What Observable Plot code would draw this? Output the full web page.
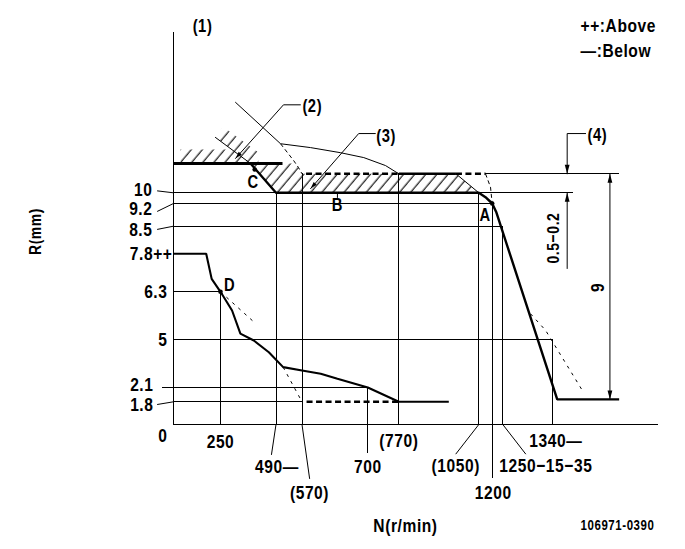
<!DOCTYPE html>
<html>
<head>
<meta charset="utf-8">
<script src="https://cdn.jsdelivr.net/npm/d3@7"></script>
<script src="https://cdn.jsdelivr.net/npm/@observablehq/plot@0.6"></script>
<style>
  html, body { margin: 0; padding: 0; background: #fff; }
  #chart svg text { letter-spacing: 0.7px; }
</style>
</head>
<body>
<div id="chart"></div>
<script>
// ---- Governor characteristic: rack position R (mm) against pump speed N (r/min) ----

// Marked speeds on the N axis and their labels
const nTickValues = [250, 490, 570, 700, 770, 1050, 1200, 1250, 1340];
const nTickLabels = ["250", "490—", "(570)", "700", "(770)", "(1050)", "1200", "1250−15−35", "1340—"];

// Marked rack positions on the R axis and their labels
const rTickValues = [10, 9.2, 8.5, 7.8, 6.3, 5, 2.1, 1.8, 0];
const rTickLabels = ["10", "9.2", "8.5", "7.8++", "6.3", "5", "2.1", "1.8", "0"];

// Axis extents
const nAxisEnd = 1627;
const rAxisTop = 17.43;

// Guide lines at each marked speed: N, from R, to R (negative R runs into the label area)
const speedGuides = [
  {n: 0, r1: 0, r2: rAxisTop},
  {n: 250, r1: 6.3, r2: 0},
  {n: 490, r1: 10, r2: 0},
  {n: 570, r1: 10.5, r2: 0},
  {n: 700, r1: 2.1, r2: -2.35},
  {n: 770, r1: 10.5, r2: 0},
  {n: 1050, r1: 10, r2: 0},
  {n: 1200, r1: 9.2, r2: -4.35},
  {n: 1250, r1: 8.5, r2: 0},
  {n: 1340, r1: 5, r2: 0}
];

// Guide lines at each marked rack position: R, from N, to N
const rackGuides = [
  {r: 0, n1: 0, n2: nAxisEnd},
  {r: 10, n1: 0, n2: 490},
  {r: 10, n1: 1050, n2: 1395},
  {r: 10.5, n1: 1125, n2: 1520},
  {r: 9.2, n1: 0, n2: 1200},
  {r: 8.5, n1: 0, n2: 1250},
  {r: 6.3, n1: 0, n2: 250},
  {r: 5, n1: 0, n2: 1340},
  {r: 2.1, n1: -58, n2: 700},
  {r: 1.8, n1: 0, n2: 570}
];

// Short leaders from labels to their guide lines, as [N, R] pairs
const rLeaders = [
  [[-85, 10.05], [0, 10]],
  [[-85, 8.96], [0, 9.2]],
  [[-85, 8.42], [0, 8.5]],
  [[-85, 1.59], [0, 1.8]]
];
const nLeaders = [
  [[490, 0], [470.5, -2.4]],
  [[570, 0], [585, -4.32]],
  [[1050, 0], [970, -2.35]],
  [[1250, 0], [1291, -2.35]]
];

// Low-speed (idle) curve down to 1.8 mm
const idleCurve = [[0, 7.8], [174, 7.8], [203, 6.81], [250, 6.3], [300, 5.79], [336, 5.16], [394, 4.94],
  [459, 4.23], [512, 3.33], [570, 3.13], [607, 2.93], [640, 2.63], [700, 2.1], [770, 1.8], [945, 1.8]];
const idleFlatDashed = [[579, 1.8], [770, 1.8]];
const idleAltDrop = [[512, 3.33], [570, 1.8]];
const idleAltD = [[250, 6.3], [401, 5.44]];

// Full-load rack limit through C, B and A, then the cut-off drop
const fullLoad = [[380, 11], [490, 10], [1050, 10], [1125, 9.67], [1200, 9.2], [1220, 8.92], [1352, 1.85], [1520, 1.85]];
const upperLimit = [[0, 11], [510, 11]];
const cutoffAlt = [[1300, 5.7], [1327, 5.25], [1420, 2.04]];

// Maximum-speed / start curve
const maxCurve = [[315, 14.0], [504, 11.97], [587, 11.78], [646, 11.53], [692, 11.29], [740, 10.9], [770, 10.5]];
const maxFlat = [[770, 10.5], [970, 10.5]];
const maxDrop = [[970, 10.5], [1050, 10]];
const maxFlatDashed = [[[578, 10.5], [770, 10.5]], [[970, 10.5], [1125, 10.5]]];
const maxCorner = [[504, 11.97], [544, 11.15], [559, 10.81], [570, 10.5]];
const maxDropDashed = [[1125, 10.5], [1181, 10.15], [1200, 9.2]];

// Hatched zones
const hatchEdge = [[223, 12.28], [380, 11]];
const hatchUpper = [[37, 11], [414, 11], [414, 11.54], [261, 12.8], [223, 12.28], [301, 11.69], [37, 11.69]];
const hatchBand = [[380, 11], [550, 11], [559, 10.81], [570, 10.5], [970, 10.5], [1050, 10], [490, 10]];

// Callouts (2), (3), (4) and the 9 mm stroke
const callout2 = [[565, 13.88], [513, 13.88], [315, 11.25]];
const callout3 = [[717, 12.47], [682, 12.47], [587, 10.11]];
const callout4 = [[1429, 12.47], [1379, 12.47], [1379, 10.5]];
const callout4Low = [[1379, 10], [1379, 7.22]];
const strokeDim = [[1495, 10.5], [1495, 1.85]];
const bTick = [[640, 10], [640, 9.65]];

// Reference points A, C, D
const pointA = [1200, 9.2];
const pointC = [398, 10.71];
const pointD = [250, 6.3];

// ---- drawing ----
const FONT = "'Liberation Sans', Arial, sans-serif";

function arrowHead(angleDeg, len = 9, half = 2.4) {
  const a = angleDeg * Math.PI / 180, ux = Math.cos(a), uy = Math.sin(a);
  return {
    draw(ctx) {
      const bx = -ux * len, by = -uy * len;
      ctx.moveTo(0, 0);
      ctx.lineTo(bx - uy * half, by + ux * half);
      ctx.lineTo(bx + uy * half, by - ux * half);
      ctx.closePath();
    }
  };
}

const thin = {stroke: "black", strokeWidth: 1};
const crisp = {stroke: "black", strokeWidth: 1, shapeRendering: "crispEdges"};
const heavy = {stroke: "black", strokeWidth: 2.4, strokeLinejoin: "miter", strokeLinecap: "butt"};
const heavyDash = {stroke: "black", strokeWidth: 2.4, strokeDasharray: "6,3.5", strokeLinecap: "butt"};
const fineDash = {stroke: "black", strokeWidth: 1, strokeDasharray: "3,5", strokeLinecap: "butt"};

const path = (pts, style) => Plot.line(pts, {x: d => d[0], y: d => d[1], ...style});
const txt = (data, opts) => Plot.text(data, {fontFamily: FONT, fontWeight: "bold", fontSize: 19, fill: "black", ...opts});
const arrow = (pt, angle, len, half) =>
  Plot.dot([pt], {x: d => d[0], y: d => d[1], symbol: arrowHead(angle, len, half), fill: "black", stroke: "none", r: 3});

const hatchDefs = () => {
  const defs = d3.create("svg:defs");
  const p = defs.append("pattern")
    .attr("id", "hatch")
    .attr("patternUnits", "userSpaceOnUse")
    .attr("width", 8.5).attr("height", 8.5)
    .attr("patternTransform", "rotate(40)");
  p.append("line").attr("x1", 4).attr("y1", -1).attr("x2", 4).attr("y2", 9.5)
    .attr("stroke", "black").attr("stroke-width", 1.1);
  return defs.node();
};

const rOffsets = [[-21, -3], [-21, 5.5], [-21, 3.3], [-1, 0], [-6, 0], [-6, 0], [-20, -3], [-20, 3.5], [-6, 11]];
const nOffsets = [[0, 17], [1, 42], [7.5, 68], [0, 42], [0, 16], [-23, 41], [1, 68], [43, 41], [3, 16]];
const framed = {frameAnchor: "top-left", textAnchor: "middle", lineAnchor: "middle"};

const chart = Plot.plot({
  width: 685,
  height: 549,
  margin: 0,
  style: {background: "white", color: "black"},
  x: {type: "linear", domain: [-920, 0, 250, 490, 570, 700, 770, 1050, 1200, 1250, 1340, 1700],
      range: [0, 173, 220, 275.5, 301.5, 367.3, 398.3, 478.3, 491.7, 502.3, 552.3, 685], axis: null},
  y: {type: "linear", domain: [-10, 0, 1.8, 2.1, 5, 6.3, 7.8, 8.5, 9.2, 10, 10.5, 11, 19],
      range: [549, 424, 401.3, 387, 339, 291.3, 253.3, 225.7, 203, 192.3, 173.3, 163, 0], axis: null},
  marks: [
    hatchDefs,
    path(hatchUpper, {fill: "url(#hatch)", stroke: "none"}),
    path(hatchBand, {fill: "url(#hatch)", stroke: "none"}),

    Plot.ruleX(speedGuides, {x: "n", y1: "r1", y2: "r2", ...crisp}),
    Plot.ruleY(rackGuides, {y: "r", x1: "n1", x2: "n2", ...crisp}),
    ...rLeaders.map(l => path(l, thin)),
    ...nLeaders.map(l => path(l, thin)),

    path(hatchEdge, thin),
    path(upperLimit, {...heavy, strokeWidth: 2.8}),
    path(fullLoad, heavy),
    path(cutoffAlt, fineDash),

    path(maxCurve, thin),
    path(maxFlat, heavy),
    path(maxDrop, thin),
    ...maxFlatDashed.map(s => path(s, heavyDash)),
    path(maxCorner, {...fineDash, strokeDasharray: "4,3"}),
    path(maxDropDashed, {...fineDash, strokeDasharray: "4,3"}),

    path(idleCurve, {...heavy, strokeWidth: 2.1}),
    path(idleFlatDashed, heavyDash),
    path(idleAltDrop, fineDash),
    path(idleAltD, fineDash),

    path(callout2, thin),
    arrow(callout2[2], 131.8, 7, 2),
    path(callout3, thin),
    arrow(callout3[2], 130.8, 7, 2),
    path(callout4, thin),
    arrow(callout4[2], 90),
    path(callout4Low, thin),
    arrow(callout4Low[0], -90),
    path(strokeDim, thin),
    arrow(strokeDim[0], -90),
    arrow(strokeDim[1], 90),
    path(bTick, thin),

    Plot.dot([pointA, pointC, pointD], {x: d => d[0], y: d => d[1], r: 2.3, fill: "black", stroke: "none"}),

    // axis labels
    ...rTickValues.map((r, i) => txt([r], {x: () => 0, y: d => d, text: () => rTickLabels[i],
      textAnchor: "end", dx: rOffsets[i][0], dy: rOffsets[i][1]})),
    ...nTickValues.map((n, i) => txt([n], {x: d => d, y: () => 0, text: () => nTickLabels[i],
      dx: nOffsets[i][0], dy: nOffsets[i][1]})),

    // point and callout labels
    txt([pointA], {x: d => d[0], y: d => d[1], text: () => "A", fontSize: 18, dx: -7, dy: 12}),
    txt([bTick[1]], {x: d => d[0], y: () => 9.2, text: () => "B", fontSize: 18, dy: 2}),
    txt([pointC], {x: d => d[0], y: d => d[1], text: () => "C", fontSize: 18, dx: -1.5, dy: 12.7}),
    txt([pointD], {x: d => d[0], y: d => d[1], text: () => "D", fontSize: 18, dx: 9, dy: -7}),
    txt([[0, rAxisTop]], {x: d => d[0], y: d => d[1], text: () => "(1)", fontSize: 18, dx: 29, dy: -6}),
    txt([callout2[0]], {x: d => d[0], y: d => d[1], text: () => "(2)", fontSize: 18, textAnchor: "start", dx: 2, dy: 1}),
    txt([callout3[0]], {x: d => d[0], y: d => d[1], text: () => "(3)", fontSize: 18, textAnchor: "start", dx: 1, dy: 3}),
    txt([callout4[0]], {x: d => d[0], y: d => d[1], text: () => "(4)", fontSize: 18, textAnchor: "start", dx: 2, dy: 2}),
    txt([[1379, 8.2]], {x: d => d[0], y: d => d[1], text: () => "0.5−0.2", fontSize: 17, rotate: -90, dx: -13.7}),
    txt([[1495, 6.47]], {x: d => d[0], y: d => d[1], text: () => "9", fontSize: 19, rotate: -90, dx: -12}),

    // titles, legend and drawing number
    txt(["R(mm)"], {...framed, dx: 35, dy: 231, rotate: -90, fontSize: 17}),
    txt(["N(r/min)"], {...framed, dx: 405, dy: 525, fontSize: 19}),
    txt(["106971-0390"], {...framed, dx: 617, dy: 525, fontSize: 14}),
    txt(["++:Above"], {...framed, textAnchor: "start", dx: 580, dy: 25, fontSize: 19}),
    txt(["—:Below"], {...framed, textAnchor: "start", dx: 580, dy: 50, fontSize: 19})
  ]
});

// Narrow lettering, as on the drawing: condense every label along its own baseline
d3.select(chart).selectAll("text").each(function () {
  const t = this.getAttribute("transform") || "";
  this.setAttribute("transform", (t + " scale(0.82,1)").trim());
});

document.getElementById("chart").appendChild(chart);
</script>
</body>
</html>
